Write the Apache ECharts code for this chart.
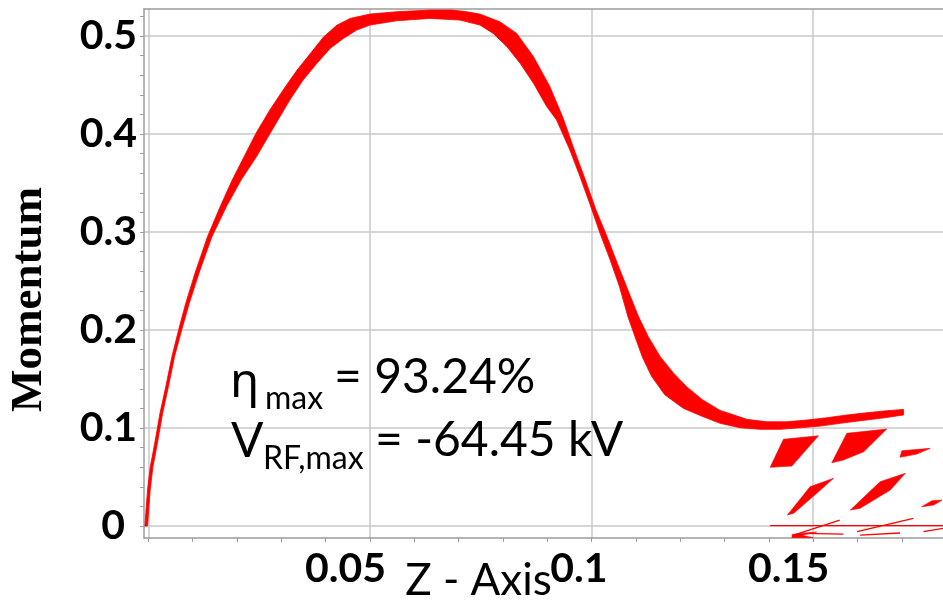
<!DOCTYPE html>
<html>
<head>
<meta charset="utf-8">
<style>
  html, body { margin: 0; padding: 0; background: #ffffff; }
  #chart { width: 943px; height: 603px; }
</style>
<script src="https://cdn.jsdelivr.net/npm/echarts@6.0.0/dist/echarts.min.js"></script>
</head>
<body>
<div id="chart"></div>
<script>
// Axis ranges (z position, momentum)
const zRange = [-0.001, 0.1793];
const pRange = [-0.0122, 0.5276];

// Tick positions and labels
const zGridTicks = [0, 0.05, 0.1, 0.15];
const zLabelTicks = [0.05, 0.1, 0.15];
const zMinorTicks = [0, 0.01, 0.02, 0.03, 0.04, 0.05, 0.06, 0.07, 0.08, 0.09,
                     0.1, 0.11, 0.12, 0.13, 0.14, 0.15, 0.16, 0.17];
const pGridTicks = [0, 0.1, 0.2, 0.3, 0.4, 0.5];
const pMinorTicks = [0, 0.02, 0.04, 0.06, 0.08, 0.1, 0.12, 0.14, 0.16, 0.18, 0.2,
                     0.22, 0.24, 0.26, 0.28, 0.3, 0.32, 0.34, 0.36, 0.38, 0.4,
                     0.42, 0.44, 0.46, 0.48, 0.5, 0.52];

// Main bunch: upper boundary of the particle band, [z, momentum], left to right
const bandUpper = [
  [-0.0008, 0.000], [-0.0006, 0.013], [-0.0002, 0.037], [0.0004, 0.060],
  [0.0014, 0.084], [0.0026, 0.115], [0.0039, 0.142], [0.0053, 0.173],
  [0.0068, 0.200], [0.0084, 0.227], [0.0105, 0.258], [0.0133, 0.295],
  [0.0162, 0.326], [0.0189, 0.353], [0.0216, 0.377], [0.0243, 0.401],
  [0.0274, 0.4245], [0.0304, 0.445], [0.0335, 0.465], [0.0365, 0.482],
  [0.0395, 0.499], [0.0425, 0.511], [0.0455, 0.518], [0.0500, 0.5224],
  [0.0560, 0.5248], [0.0635, 0.5265], [0.0685, 0.5265], [0.0715, 0.5250],
  [0.0748, 0.5224], [0.0793, 0.5146], [0.0831, 0.5027], [0.0869, 0.4789],
  [0.0906, 0.4483], [0.0936, 0.4160], [0.0961, 0.3837], [0.0986, 0.3531],
  [0.1010, 0.3224], [0.1035, 0.2952], [0.1058, 0.2681], [0.1082, 0.2408],
  [0.1106, 0.2136], [0.1128, 0.1932], [0.1155, 0.1728], [0.1185, 0.1560],
  [0.1215, 0.1420], [0.1250, 0.1290], [0.1290, 0.1180], [0.1330, 0.1120],
  [0.1350, 0.1089], [0.1395, 0.1064], [0.1441, 0.1064], [0.1486, 0.1082],
  [0.1531, 0.1105], [0.1576, 0.1133], [0.1621, 0.1156], [0.1666, 0.1177],
  [0.1704, 0.1190]
];

// Main bunch: lower boundary of the particle band, [z, momentum], left to right
const bandLower = [
  [-0.0002, 0.000], [0.0000, 0.013], [0.0004, 0.037], [0.0010, 0.060],
  [0.0020, 0.084], [0.0032, 0.115], [0.0045, 0.142], [0.0059, 0.173],
  [0.0075, 0.200], [0.0092, 0.227], [0.0114, 0.258], [0.0143, 0.295],
  [0.0176, 0.326], [0.0209, 0.353], [0.0244, 0.377], [0.0275, 0.401],
  [0.0319, 0.4347], [0.0349, 0.4551], [0.0380, 0.4721], [0.0410, 0.4874],
  [0.0440, 0.4976], [0.0470, 0.5061], [0.0500, 0.5112], [0.0560, 0.5156],
  [0.0635, 0.5180], [0.0703, 0.5163], [0.0748, 0.5112], [0.0778, 0.5027],
  [0.0809, 0.4891], [0.0839, 0.4721], [0.0869, 0.4517], [0.0899, 0.4279],
  [0.0921, 0.4143], [0.0951, 0.3837], [0.0974, 0.3564], [0.0997, 0.3276],
  [0.1019, 0.2987], [0.1042, 0.2714], [0.1063, 0.2442], [0.1082, 0.2136],
  [0.1098, 0.1932], [0.1115, 0.1720], [0.1135, 0.1530], [0.1165, 0.1340],
  [0.1207, 0.1201], [0.1252, 0.1115], [0.1290, 0.1048], [0.1335, 0.1003],
  [0.1380, 0.0987], [0.1425, 0.0987], [0.1471, 0.1003], [0.1516, 0.1020],
  [0.1561, 0.1048], [0.1606, 0.1074], [0.1652, 0.1099], [0.1704, 0.1133]
];

// Trailing particle clusters behind the bunch (outlines, [z, momentum])
const clusters = [
  [[0.1403, 0.0599], [0.1433, 0.0885], [0.1512, 0.0921], [0.1452, 0.0612]],
  [[0.1542, 0.0646], [0.1576, 0.0946], [0.1666, 0.0990], [0.1614, 0.0758], [0.1568, 0.0673]],
  [[0.1696, 0.0701], [0.1700, 0.0768], [0.1764, 0.0793], [0.1734, 0.0735]],
  [[0.1442, 0.0112], [0.1493, 0.0401], [0.1546, 0.0487], [0.1508, 0.0334], [0.1456, 0.0130]],
  [[0.1584, 0.0163], [0.1651, 0.0452], [0.1708, 0.0538], [0.1674, 0.0367], [0.1606, 0.0181]],
  [[0.1745, 0.0197], [0.1768, 0.0258], [0.1791, 0.0265], [0.1772, 0.0214]],
  [[0.1452, -0.0120], [0.1453, -0.0085], [0.1508, -0.0060], [0.1475, -0.0095], [0.1500, -0.0120]]
];

// Thin particle streaks close to zero momentum
const streaks = [
  [[0.1403, 0.0004], [0.1794, 0.0004]],
  [[0.1456, -0.0092], [0.1560, 0.0061]],
  [[0.1478, -0.0075], [0.1568, -0.0082]],
  [[0.1599, -0.0058], [0.1726, 0.0079]],
  [[0.1606, -0.0092], [0.1696, -0.0071]],
  [[0.1749, -0.0058], [0.1794, -0.0023]]
];

const RED = '#ff0000';
const AXIS_GREY = '#9c9c9c';
const GRID_GREY = '#c9c9c9';
const TICK_FONT = 'Lato, "Noto Sans", sans-serif';

const chart = echarts.init(document.getElementById('chart'), null, { renderer: 'canvas' });

function renderParticles(params, api) {
  const outline = bandUpper.concat(bandLower.slice().reverse()).map(d => api.coord(d));
  const children = [{
    type: 'polygon',
    shape: { points: outline },
    style: { fill: RED, stroke: RED, lineWidth: 0.8 }
  }];
  clusters.forEach(c => {
    children.push({
      type: 'polygon',
      shape: { points: c.map(d => api.coord(d)) },
      style: { fill: RED, stroke: RED, lineWidth: 0.6 }
    });
  });
  streaks.forEach(s => {
    children.push({
      type: 'polyline',
      shape: { points: s.map(d => api.coord(d)) },
      style: { stroke: RED, lineWidth: 1.3, fill: null }
    });
  });
  return { type: 'group', children };
}

const option = {
  backgroundColor: '#ffffff',
  animation: false,
  grid: { left: 144, right: 0, top: 9, bottom: 65, containLabel: false, outerBoundsMode: 'none' },
  xAxis: [
    {
      type: 'value', min: zRange[0], max: zRange[1], position: 'bottom',
      axisLine: { show: true, onZero: false, lineStyle: { color: AXIS_GREY, width: 1.5 } },
      axisTick: { show: true, customValues: zMinorTicks, length: 4, lineStyle: { color: AXIS_GREY, width: 1 } },
      axisLabel: {
        customValues: zLabelTicks, color: '#000', fontFamily: TICK_FONT, fontWeight: 'bold',
        fontSize: 41, margin: 10, align: 'right', padding: [0, -16, 0, 0]
      },
      splitLine: { show: false },
      name: 'Z - Axis', nameLocation: 'middle', nameGap: 21, nameMoveOverlap: false,
      nameTextStyle: { color: '#000', fontFamily: TICK_FONT, fontSize: 44, padding: [0, 130, 0, 0] }
    },
    {
      type: 'value', min: zRange[0], max: zRange[1], position: 'top',
      axisLine: { show: true, onZero: false, lineStyle: { color: AXIS_GREY, width: 1.5 } },
      axisTick: { show: false, customValues: zGridTicks },
      axisLabel: { show: false },
      splitLine: { show: true, lineStyle: { color: GRID_GREY, width: 1.5 } }
    }
  ],
  yAxis: [
    {
      type: 'value', min: pRange[0], max: pRange[1], position: 'left',
      axisLine: { show: true, onZero: false, lineStyle: { color: AXIS_GREY, width: 1.5 } },
      axisTick: { show: true, customValues: pMinorTicks, length: 4, lineStyle: { color: AXIS_GREY, width: 1 } },
      axisLabel: {
        customValues: pGridTicks, color: '#000', fontFamily: TICK_FONT, fontWeight: 'bold',
        fontSize: 41, margin: 7,
        formatter: v => (v === 0 ? '{zero|0}' : String(v)),
        rich: { zero: { fontFamily: TICK_FONT, fontWeight: 'bold', fontSize: 41, color: '#000', padding: [0, 12, 0, 0] } }
      },
      splitLine: { show: false },
      name: 'Momentum', nameLocation: 'middle', nameRotate: 90, nameGap: 92, nameMoveOverlap: false,
      nameTextStyle: {
        color: '#000', fontFamily: '"Liberation Serif", "DejaVu Serif", serif',
        fontWeight: 'bold', fontSize: 45, padding: [0, 52, 0, 0]
      }
    },
    {
      type: 'value', min: pRange[0], max: pRange[1], position: 'right',
      axisLine: { show: false },
      axisTick: { show: false, customValues: pGridTicks },
      axisLabel: { show: false },
      splitLine: { show: true, lineStyle: { color: GRID_GREY, width: 1.5 } }
    }
  ],
  graphic: [
    { type: 'text', left: 230, top: 359, z: 10,
      style: { text: 'η', fill: '#000', font: '48px "Noto Sans", sans-serif' } },
    { type: 'text', left: 265, top: 383, z: 10,
      style: { text: 'max', fill: '#000', font: '32px Lato, "Noto Sans", sans-serif' } },
    { type: 'text', left: 334, top: 354, z: 10,
      style: { text: '= 93.24%', fill: '#000', font: '48px Lato, "Noto Sans", sans-serif' } },
    { type: 'text', left: 231, top: 418, z: 10,
      style: { text: 'V', fill: '#000', font: '48px Lato, "Noto Sans", sans-serif' } },
    { type: 'text', left: 263, top: 443, z: 10,
      style: { text: 'RF,max', fill: '#000', font: '32px Lato, "Noto Sans", sans-serif' } },
    { type: 'text', left: 375, top: 417, z: 10,
      style: { text: '= -64.45 kV', fill: '#000', font: '48px Lato, "Noto Sans", sans-serif' } }
  ],
  series: [
    {
      type: 'custom',
      name: 'particles',
      xAxisIndex: 0, yAxisIndex: 0,
      clip: true,
      silent: true,
      data: [[0]],
      renderItem: renderParticles
    }
  ]
};

chart.setOption(option);
</script>
</body>
</html>
